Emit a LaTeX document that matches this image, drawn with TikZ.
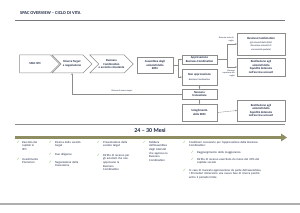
\documentclass[tikz,border=0pt]{standalone}
\usepackage{fontspec}
\setmainfont{Carlito}
\newfontfamily\symfont{DejaVu Sans}
\usetikzlibrary{shapes.symbols,arrows.meta}
\definecolor{txt}{HTML}{1F2A44}
\definecolor{edge}{HTML}{8C8C8C}
\definecolor{olive}{HTML}{8E8E62}
\definecolor{chk}{HTML}{5FAF3F}
\tikzset{
  chev/.style={shape=signal, signal to=east, draw=edge, line width=0.5pt, fill=white,
    minimum height=18pt, inner sep=0pt, align=center, font=\fontsize{3}{3.6}\selectfont\bfseries, text=txt},
  box/.style={draw=edge, line width=0.4pt, fill=white, inner sep=0pt, align=center,
    font=\fontsize{3}{3.6}\selectfont, text=txt, minimum width=35pt},
  conn/.style={draw=edge, line width=0.35pt, -{Stealth[length=1.5pt,width=1.5pt]}},
  lbl/.style={font=\fontsize{2.2}{2.6}\selectfont, text=txt, align=right, inner sep=0pt},
  item/.style={anchor=north west, font=\fontsize{3}{3.6}\selectfont, text=txt, align=left, inner sep=0pt},
  ck/.style={anchor=north east, font=\symfont\fontsize{3.6}{3.6}\selectfont, text=chk, inner sep=0pt},
}
\begin{document}
\begin{tikzpicture}[x=1pt,y=-1pt]
\useasboundingbox (0,0) rectangle (300,213);
% title
\node[anchor=west, font=\fontsize{4.5}{5}\selectfont\bfseries, text=txt, inner sep=0pt] (title) at (20,13) {SPAC OVERVIEW -- CICLO DI VITA};
\draw[draw=edge!80!txt, line width=0.8pt] (15,20) -- (285,20);
% chevrons
\node[chev, signal from=nowhere, minimum width=40pt] (c1) at (35,64) {SPAC IPO};
\node[chev, signal from=west, minimum width=40pt] (c2) at (72,64) {Ricerca Target\\e negoziazione};
\node[chev, signal from=west, minimum width=43pt] (c3) at (111.5,64) {Business\\Combination\\e accordo vincolante};
% boxes
\node[box, minimum width=36pt, minimum height=16pt, font=\fontsize{3}{3.6}\selectfont\bfseries] (ass) at (155,65) {Assemblea degli\\azionisti della\\SPAC};
\node[box, minimum height=9pt, font=\fontsize{3}{3.6}\selectfont\bfseries] (app) at (199.5,59.5) {Approvazione\\Business Combination};
\node[box, minimum height=16pt] (non) at (199.5,77) {\textbf{Non approvazione}\\[1pt]{\fontsize{2.4}{2.8}\selectfont Business Combination}};
\node[box, minimum height=10pt, font=\fontsize{3}{3.6}\selectfont\bfseries] (nes) at (199.5,94) {Nessuna\\transazione};
\node[box, minimum height=17pt, font=\fontsize{3}{3.6}\selectfont\bfseries] (sci) at (199.5,112.5) {Scioglimento\\della SPAC};
\node[box, minimum width=48pt, minimum height=22pt] (bc) at (261,44) {\textbf{Business Combination}\\[0.5pt]{\fontsize{2.4}{2.9}\selectfont (gli azionisti della SPAC}\\{\fontsize{2.4}{2.9}\selectfont diventano azionisti di}\\{\fontsize{2.4}{2.9}\selectfont una società quotata)}};
\node[box, minimum width=48pt, minimum height=18pt, font=\fontsize{3}{3.6}\selectfont\bfseries] (r1) at (261,67) {Restituzione agli\\azionisti della\\liquidità detenuta\\nell'escrow account};
\node[box, minimum width=48pt, minimum height=21pt, font=\fontsize{3}{3.6}\selectfont\bfseries] (r2) at (261,110.5) {Restituzione agli\\azionisti della\\liquidità detenuta\\nell'escrow account};
% connectors
\coordinate (j1) at (178,65);
\draw[draw=edge, line width=0.35pt] (ass.east) -- (j1);
\draw[conn] (j1) |- (app.west);
\draw[conn] (j1) |- (non.west);
\coordinate (j2) at (227,59.5);
\draw[draw=edge, line width=0.35pt] (app.east) -- (j2);
\draw[conn] (j2) |- (bc.west);
\draw[conn] (j2) |- (r1.west);
\draw[conn] (non.south) -- (nes.north);
\draw[conn] (nes.south) -- (sci.north);
\draw[conn] (sci.east) -- (r2.west);
\draw[conn] (nes.west) -- (72,94) -- (c2.south);
% labels
\node[lbl, anchor=south east] (l1) at (234,42) {Recesso entro la\\soglia};
\node[lbl, anchor=north east] (l2) at (235,69.5) {Recesso\\superiore alla\\soglia};
\node[lbl, anchor=south, align=center] (l3) at (122,92.5) {Ricerca di nuovo target};
% timeline
\draw[draw=edge, line width=0.4pt] (15,124) -- (285,124);
\node[font=\fontsize{6}{7}\selectfont\bfseries, text=txt, inner sep=0pt] (mesi) at (150,130) {24 -- 30 Mesi};
\draw[draw=olive, line width=3.5pt, -{Triangle[length=6pt,width=7.5pt]}] (15,137.5) -- (287,137.5);
% lists
\node[ck] (k1) at (20,141.5) {✓};
\node[item, text width=22pt] (t1) at (22,141) {Raccolta dei\\capitali in\\IPO};
\node[ck] (k2) at (20,158.5) {✓};
\node[item, text width=22pt] (t2) at (22,158) {Investimento\\Promotori};
\node[ck] (k3) at (52,141.5) {✓};
\node[item, text width=38pt] (t3) at (55,141) {Ricerca della società\\target};
\node[ck] (k4) at (52,153.5) {✓};
\node[item, text width=38pt] (t4) at (55,153) {Due diligence};
\node[ck] (k5) at (52,161.5) {✓};
\node[item, text width=38pt] (t5) at (55,161) {Negoziazione della\\transazione};
\node[ck] (k6) at (100,141.5) {✓};
\node[item, text width=38pt] (t6) at (103,141) {Presentazione della\\società target};
\node[ck] (k7) at (100,154.5) {✓};
\node[item, text width=38pt] (t7) at (103,154) {Diritto di recesso per\\gli azionisti che non\\approvano la\\Business\\Combination};
\node[ck] (k8) at (146,141.5) {✓};
\node[item, text width=34pt] (t8) at (149,141) {Delibera\\dell'Assemblea\\degli Azionisti\\che approva la\\Business\\Combination};
\node[ck] (k9) at (186,141.5) {✓};
\node[item, text width=100pt] (t9) at (189,141) {Condizioni necessarie per l'approvazione della Business\\Combination:};
\node[ck] (k10) at (194,151.5) {✓};
\node[item, text width=90pt] (t10) at (197,151) {Raggiungimento della maggioranza};
\node[ck] (k11) at (194,158.5) {✓};
\node[item, text width=90pt] (t11) at (197,158) {Diritto di recesso esercitato da meno del 30\% del\\capitale sociale};
\node[ck] (k12) at (186,169.5) {✓};
\node[item, text width=100pt] (t12) at (189,169) {In caso di mancata approvazione da parte dell'assemblea,\\i Promotori inizieranno una nuova fase di ricerca purché\\entro il periodo limite};
% bottom bar
\draw[draw=edge!70, line width=1.5pt] (0,204) -- (300,204);
\end{tikzpicture}
\end{document}
